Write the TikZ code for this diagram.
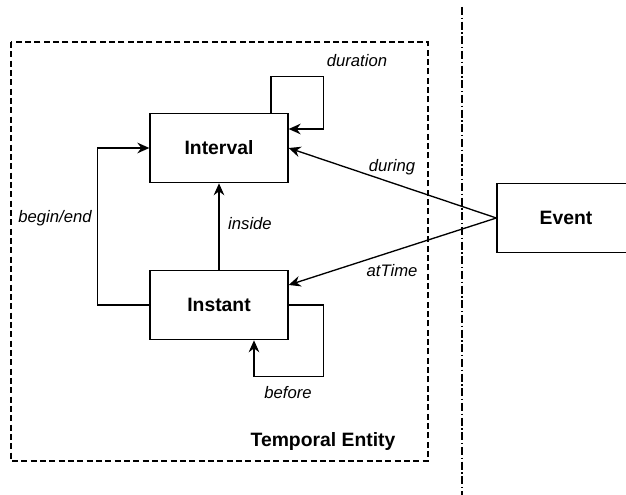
\documentclass[tikz,border=0pt]{standalone}
\usepackage{fontspec}
\setmainfont{Liberation Sans}
\usetikzlibrary{arrows.meta,calc}

\tikzset{every picture/.style={line width=1pt}}
\tikzset{
  classbox/.style={draw, minimum width=103.5pt, minimum height=52pt, inner sep=0pt, font=\fontsize{14.5}{17}\selectfont\bfseries},
  rel/.style={-{Stealth[length=9pt,width=8pt,inset=3pt]}},
  rellabel/.style={inner sep=0.75pt, font=\fontsize{12.5}{15}\selectfont\itshape}
}

\begin{document}
\begin{tikzpicture}[x=0.75pt,y=0.75pt,yscale=-1,xscale=1]
\clip (0,0) rectangle (626,495);

%Shape: Rectangle (temporal entity frame)
\draw [dash pattern={on 4.5pt off 2.5pt}] (11,42) rectangle (428,461) ;
%Straight Lines (separator)
\draw [dash pattern={on 6pt off 2pt on 1pt off 2pt}] (462,7) -- (462,495) ;

%Classes
\node [classbox] (interval) at (219,148) {Interval};
\node [classbox] (instant) at (219,305) {Instant};
\node [classbox] (event) at (566,218) {Event};

%Connectors
\draw [rel] ($(interval.north)+(52,0)$) -- ++(0,-36) -| ($(interval.east)+(35,-19)$) -- ($(interval.east)+(0,-19)$) ;
\draw [rel] (instant.west) -- ++(-52,0) |- (interval.west) ;
\draw [rel] (instant.north) -- (interval.south) ;
\draw [rel] (event.west) -- (interval.east) ;
\draw [rel] (event.west) -- ($(instant.east)+(0,-20)$) ;
\draw [rel] (instant.east) -- ++(35,0) |- ($(instant.south)+(35,36)$) -- ($(instant.south)+(35,0)$) ;

% Text Node
\node [rellabel] (durationlbl) at (357,61) {duration};
% Text Node
\node [rellabel] (duringlbl) at (392,167) {during};
% Text Node
\node [rellabel] (attimelbl) at (392,271) {atTime};
% Text Node
\node [rellabel] (beforelbl) at (288,393) {before};
% Text Node
\node [rellabel] (beginendlbl) at (55,218) {begin/end};
% Text Node
\node [rellabel] (insidelbl) at (250,224) {inside};
% Text Node
\node [inner sep=0.75pt, font=\fontsize{14.5}{17}\selectfont\bfseries] (entitylbl) at (323,442) {Temporal Entity};

\end{tikzpicture}
\end{document}
